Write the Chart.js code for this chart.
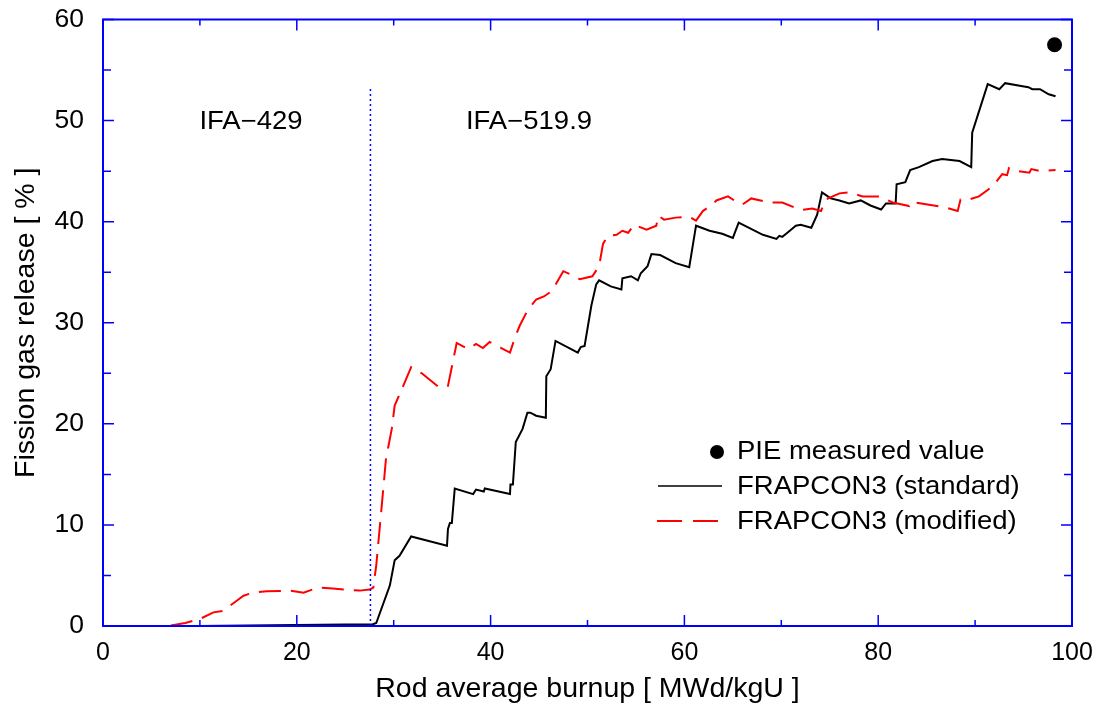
<!DOCTYPE html>
<html>
<head>
<meta charset="utf-8">
<script src="https://cdn.jsdelivr.net/npm/chart.js@4/dist/chart.umd.min.js"></script>
<style>
  html, body { margin: 0; padding: 0; background: #fff; }
  #wrap { width: 1103px; height: 706px; }
</style>
</head>
<body>
<div id="wrap"><canvas id="myChart" width="1103" height="706"></canvas></div>
<script>
// FRAPCON3 (standard): burnup [MWd/kgU] and fission gas release [%]
const STD_BURNUP = [0, 10, 15, 20, 25, 27.8, 28.2, 29.6, 30.1, 30.6, 31.8, 35.5, 35.6, 35.8, 36.0, 36.3,
    38.2, 38.5, 39.3, 39.4, 42.0, 42.05, 42.3, 42.6, 43.3, 43.8, 44.1, 44.7, 45.7, 45.75, 46.2, 46.7,
    49.0, 49.3, 49.7, 50.4, 50.9, 51.2, 52.4, 53.5, 53.6, 54.5, 55.2, 55.5, 56.2, 56.6, 57.5, 59.1,
    60.5, 61.2, 62.6, 63.9, 65.0, 65.6, 68.1, 69.5, 69.8, 70.1, 70.5, 71.0, 71.5, 72.0, 73.1, 73.7,
    74.2, 75.1, 76.0, 77.0, 78.2, 79.2, 80.3, 80.8, 81.8, 81.9, 82.8, 83.3, 84.2, 85.6, 86.6, 88.4,
    89.6, 89.7, 91.3, 92.5, 93.1, 94.9, 95.5, 95.9, 96.7, 97.6, 98.3];
const STD_FGR = [0, 0, 0.05, 0.1, 0.15, 0.15, 0.3, 4.0, 6.5, 6.95, 8.86, 7.94, 9.6, 10.2, 10.2, 13.6,
    13.05, 13.5, 13.3, 13.6, 13.05, 14.0, 14.0, 18.2, 19.5, 21.1, 21.1, 20.8, 20.6, 24.7, 25.4, 28.2,
    27.05, 27.6, 27.7, 31.7, 33.8, 34.2, 33.6, 33.3, 34.4, 34.6, 34.2, 34.9, 35.6, 36.8, 36.7, 35.9,
    35.5, 39.6, 39.1, 38.8, 38.4, 39.9, 38.7, 38.3, 38.6, 38.5, 38.8, 39.2, 39.6, 39.7, 39.4, 40.7,
    42.9, 42.3, 42.1, 41.8, 42.1, 41.6, 41.2, 41.8, 41.8, 43.7, 43.9, 45.1, 45.4, 46.0, 46.2, 46.0,
    45.4, 48.8, 53.6, 53.1, 53.7, 53.4, 53.3, 53.1, 53.1, 52.6, 52.4];

// FRAPCON3 (modified)
const MOD_BURNUP = [7.0, 8.5, 10.0, 11.4, 12.4, 12.9, 13.8, 14.5, 15.5, 16.9, 19.3, 20.7, 21.3, 22.2,
    23.7, 26.5, 27.5, 27.9, 28.0, 28.2, 28.7, 29.2, 29.8, 30.1, 30.6, 31.8, 32.9, 34.7, 35.6, 36.5,
    37.7, 38.5, 39.2, 39.9, 41.1, 42.0, 42.5, 43.0, 43.8, 44.7, 45.5, 46.1, 46.6, 47.5, 48.7, 49.2,
    50.5, 51.2, 51.6, 52.1, 53.0, 53.6, 54.2, 54.8, 56.1, 57.1, 57.3, 57.9, 59.1, 60.5, 61.2, 61.9,
    62.9, 63.3, 64.5, 65.3, 66.0, 66.9, 68.8, 70.1, 72.0, 73.2, 74.1, 74.6, 76.0, 77.0, 78.4, 80.1,
    81.5, 83.2, 83.4, 87.0, 88.2, 88.5, 89.4, 90.4, 91.4, 92.1, 92.8, 93.3, 93.5, 94.4, 95.6, 95.8,
    96.7, 98.3];
const MOD_FGR = [0.05, 0.3, 0.7, 1.35, 1.5, 1.85, 2.5, 3.0, 3.3, 3.43, 3.5, 3.3, 3.5, 3.8,
    3.7, 3.5, 3.6, 3.8, 4.6, 6.0, 11.2, 16.5, 19.5, 21.8, 22.9, 25.6, 25.0, 23.6, 23.75, 28.0,
    27.4, 27.9, 27.5, 28.1, 27.5, 27.05, 28.5, 29.7, 31.2, 32.3, 32.6, 33.0, 33.6, 35.1, 34.6, 34.3,
    34.6, 35.6, 37.8, 38.6, 38.7, 39.1, 38.9, 39.7, 39.2, 39.6, 40.6, 40.2, 40.4, 40.5, 40.1, 41.05,
    41.7, 42.1, 42.5, 42.0, 41.7, 42.3, 41.9, 41.9, 41.15, 41.3, 41.05, 42.2, 42.8, 42.9, 42.5, 42.5,
    41.9, 41.55, 41.95, 41.4, 41.05, 42.2, 42.2, 42.5, 43.2, 43.85, 44.7, 44.6, 45.3, 45.0, 44.85, 45.2,
    45.0, 45.1];

// PIE measured value
const PIE_BURNUP = [98.2];
const PIE_FGR = [57.5];

// boundary between the two irradiation campaigns
const BOUNDARY_BURNUP = [27.6, 27.6];
const BOUNDARY_FGR = [0, 53.3];

const X_TICKS = [0, 20, 40, 60, 80, 100];
const Y_TICKS = [0, 10, 20, 30, 40, 50, 60];

const FONT = '"Liberation Sans", Arial, Helvetica, sans-serif';
const BLUE = '#0000ff';

function toPoints(xs, ys) {
    let pts = [];
    for (let i = 0; i < xs.length; i++) pts.push({x: xs[i], y: ys[i]});
    return pts;
}

// text slightly wider than a normal sans-serif, like the original
function wideText(ctx, text, x, y, size, align) {
    ctx.save();
    ctx.font = size + 'px ' + FONT;
    ctx.fillStyle = '#000';
    ctx.textBaseline = 'middle';
    let w = ctx.measureText(text).width * 1.1;
    let left = align === 'center' ? x - w / 2 : x;
    ctx.translate(left, y);
    ctx.scale(1.1, 1);
    ctx.textAlign = 'left';
    ctx.fillText(text, 0, 0);
    ctx.restore();
}

const frame = {
    id: 'frame',
    afterDatasetsDraw(chart) {
        const ctx = chart.ctx;
        const a = chart.chartArea;
        const xs = chart.scales.x, ys = chart.scales.y;
        ctx.save();
        ctx.strokeStyle = BLUE;
        ctx.lineWidth = 2;
        ctx.strokeRect(a.left, a.top, a.right - a.left, a.bottom - a.top);
        ctx.lineWidth = 1.5;
        ctx.beginPath();
        for (let v = 0; v <= 100; v += 10) {
            let px = xs.getPixelForValue(v);
            let len = (v % 20 === 0) ? 11 : 6;
            ctx.moveTo(px, a.bottom); ctx.lineTo(px, a.bottom - len);
            ctx.moveTo(px, a.top); ctx.lineTo(px, a.top + len);
        }
        for (let v = 0; v <= 60; v += 5) {
            let py = ys.getPixelForValue(v);
            let len = (v % 10 === 0) ? 11 : 8;
            ctx.moveTo(a.left, py); ctx.lineTo(a.left + len, py);
            ctx.moveTo(a.right, py); ctx.lineTo(a.right - len, py);
        }
        ctx.stroke();
        ctx.restore();
    },
    afterDraw(chart) {
        const ctx = chart.ctx;
        // campaign labels
        wideText(ctx, 'IFA\u2212429', 251, 122, 25, 'center');
        wideText(ctx, 'IFA\u2212519.9', 529, 122, 25, 'center');

        // legend
        ctx.save();
        ctx.fillStyle = '#000';
        ctx.beginPath();
        ctx.arc(717, 452, 7, 0, Math.PI * 2);
        ctx.fill();
        ctx.strokeStyle = '#000';
        ctx.lineWidth = 1.5;
        ctx.beginPath();
        ctx.moveTo(658, 486); ctx.lineTo(722, 486);
        ctx.stroke();
        ctx.strokeStyle = '#ff0000';
        ctx.lineWidth = 2;
        ctx.setLineDash([25, 11]);
        ctx.beginPath();
        ctx.moveTo(657, 521); ctx.lineTo(721, 521);
        ctx.stroke();
        ctx.restore();
        wideText(ctx, 'PIE measured value', 737, 452, 25, 'left');
        wideText(ctx, 'FRAPCON3 (standard)', 737, 487, 25, 'left');
        wideText(ctx, 'FRAPCON3 (modified)', 737, 522, 25, 'left');
    }
};

const ctx = document.getElementById('myChart').getContext('2d');

new Chart(ctx, {
    type: 'line',
    data: {
        datasets: [
            {
                label: 'boundary',
                data: toPoints(BOUNDARY_BURNUP, BOUNDARY_FGR),
                borderColor: BLUE,
                borderWidth: 1.5,
                borderDash: [2, 3],
                pointRadius: 0,
            },
            {
                label: 'FRAPCON3 (modified)',
                data: toPoints(MOD_BURNUP, MOD_FGR),
                borderColor: '#ff0000',
                borderWidth: 2,
                borderDash: [22, 10],
                pointRadius: 0,
            },
            {
                label: 'FRAPCON3 (standard)',
                data: toPoints(STD_BURNUP, STD_FGR),
                borderColor: '#000',
                borderWidth: 2,
                pointRadius: 0,
            },
            {
                label: 'PIE measured value',
                data: toPoints(PIE_BURNUP, PIE_FGR),
                showLine: false,
                pointRadius: 7.5,
                pointBackgroundColor: '#000',
                pointBorderWidth: 0,
            },
        ]
    },
    options: {
        responsive: false,
        animation: false,
        events: [],
        layout: { padding: { top: 19.5, right: 31, left: 0, bottom: 0 } },
        elements: { line: { tension: 0 } },
        plugins: { legend: { display: false }, tooltip: { enabled: false } },
        scales: {
            x: {
                type: 'linear',
                min: 0,
                max: 100,
                afterBuildTicks: (s) => { s.ticks = X_TICKS.map(v => ({value: v})); },
                afterFit: (s) => { s.height = 80; s.paddingLeft = 0; s.paddingRight = 0; },
                grid: { display: false, drawTicks: false },
                border: { display: false },
                ticks: { color: '#000', padding: 12, font: { family: FONT, size: 25 } },
                title: {
                    display: true,
                    text: 'Rod average burnup [ MWd/kgU ]',
                    color: '#000',
                    padding: { top: 0, bottom: 0 },
                    font: { family: FONT, size: 28.5 }
                }
            },
            y: {
                min: 0,
                max: 60,
                afterBuildTicks: (s) => { s.ticks = Y_TICKS.map(v => ({value: v})); },
                afterFit: (s) => { s.width = 103; s.paddingTop = 0; s.paddingBottom = 0; },
                grid: { display: false, drawTicks: false },
                border: { display: false },
                ticks: { color: '#000', padding: 19, font: { family: FONT, size: 26.5 } },
                title: {
                    display: true,
                    text: 'Fission gas release [ % ]',
                    color: '#000',
                    padding: { top: 9, bottom: 0 },
                    font: { family: FONT, size: 28.5 }
                }
            }
        }
    },
    plugins: [frame]
});
</script>
</body>
</html>
